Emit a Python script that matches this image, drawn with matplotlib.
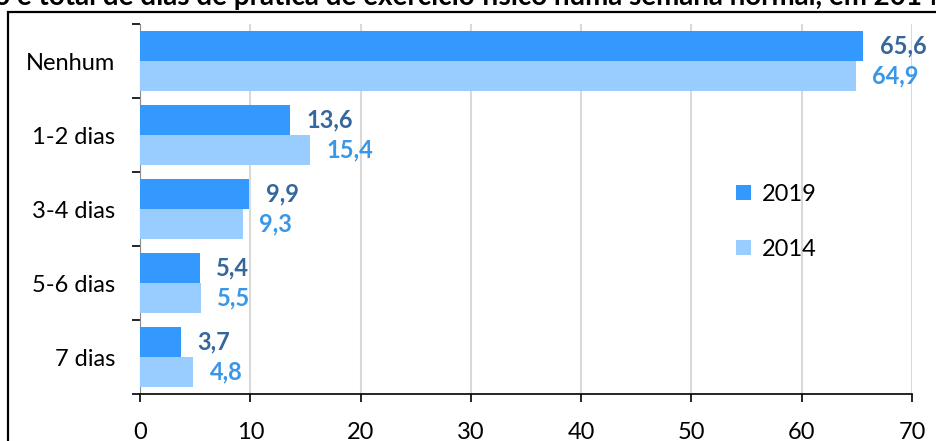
import numpy as np
import matplotlib.pyplot as plt
from matplotlib.patches import Rectangle

# dados
categorias = ['Nenhum', '1-2 dias', '3-4 dias', '5-6 dias', '7 dias']
valores_2019 = [65.6, 13.6, 9.9, 5.4, 3.7]
valores_2014 = [64.9, 15.4, 9.3, 5.5, 4.8]
anos = ['2019', '2014']
titulo = 'ção e total de dias de prática de exercício físico numa semana normal, em 2014-2019'

cor_2019 = '#3399FF'
cor_2014 = '#99CCFF'
cor_txt_2019 = '#36679B'
cor_txt_2014 = '#3A97E8'

plt.rcParams['font.family'] = ['Lato', 'DejaVu Sans']

fig = plt.figure(figsize=(9.36, 4.41), dpi=100)
ax = fig.add_axes([140 / 936, 1 - 394 / 441, (912 - 140) / 936, (394 - 24) / 441])

# moldura exterior (cortada na imagem)
fig.patches.append(Rectangle((8 / 936, -0.2), 1.2, 1 - 12 / 441 + 0.2, transform=fig.transFigure,
                             fill=False, edgecolor='black', linewidth=1.6, clip_on=False))
fig.text(-0.035, 1 + 3 / 441, titulo, fontsize=20, fontweight='bold', ha='left', va='center')

y = np.arange(len(categorias))
h = 0.405
ax.barh(y - h / 2, valores_2019, height=h, color=cor_2019, label=anos[0], zorder=3)
ax.barh(y + h / 2, valores_2014, height=h, color=cor_2014, label=anos[1], zorder=3)

for v, yy in zip(valores_2019, y - h / 2):
    ax.annotate(f'{v:.1f}'.replace('.', ','), (v, yy), xytext=(12, 0), textcoords='offset points',
                va='center', ha='left', fontsize=17, fontweight='bold', color=cor_txt_2019)
for v, yy in zip(valores_2014, y + h / 2):
    ax.annotate(f'{v:.1f}'.replace('.', ','), (v, yy), xytext=(12, 0), textcoords='offset points',
                va='center', ha='left', fontsize=17, fontweight='bold', color=cor_txt_2014)

ax.set_xlim(0, 70)
ax.set_ylim(len(categorias) - 0.5, -0.5)
ax.set_xticks(np.arange(0, 71, 10))
ax.set_yticks(np.arange(-0.5, len(categorias), 1))
ax.set_yticklabels([])
ax.set_yticks(y, categorias, minor=True)
ax.tick_params(axis='y', which='minor', length=0, pad=18, labelsize=17)
ax.tick_params(axis='y', which='major', length=6, width=1.2, color='black')
ax.tick_params(axis='x', length=6, width=1.2, pad=14, labelsize=17)

ax.grid(axis='x', color='#D9D9D9', linewidth=1.5, zorder=0)
for s in ['top', 'right']:
    ax.spines[s].set_visible(False)
ax.spines['left'].set_color('#8C8C8C')
ax.spines['bottom'].set_color('black')
ax.spines['bottom'].set_linewidth(1.2)

ax.legend(loc='center left', bbox_to_anchor=(0.745, 0.465), frameon=False, fontsize=17,
          handlelength=0.6, handleheight=0.6, labelspacing=1.45, handletextpad=0.5)

fig.savefig('out.png', dpi=100)
